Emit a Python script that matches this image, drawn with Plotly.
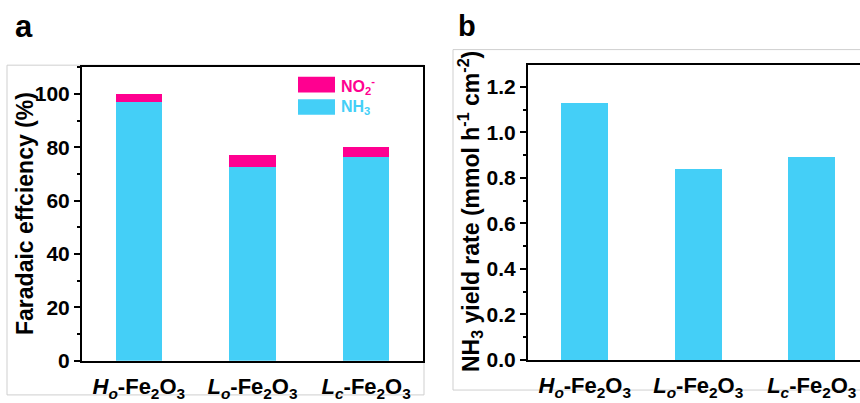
import plotly.graph_objects as go

W, H = 860, 403
def px(x): return x / W
def py(y): return 1 - y / H

# ---- data ----
categories = ["Ho-Fe2O3", "Lo-Fe2O3", "Lc-Fe2O3"]
tick_labels = ["<i>H<sub>o</sub></i>-Fe<sub>2</sub>O<sub>3</sub>",
               "<i>L<sub>o</sub></i>-Fe<sub>2</sub>O<sub>3</sub>",
               "<i>L<sub>c</sub></i>-Fe<sub>2</sub>O<sub>3</sub>"]
fe_nh3 = [96.9, 72.5, 76.5]
fe_no2 = [2.9, 4.6, 3.7]
yield_nh3 = [1.13, 0.84, 0.89]

CYAN = "#44CFF7"
PINK = "#FF0090"
FONT = "Liberation Sans"
xpos = list(range(len(categories)))

fig = go.Figure()
fig.add_trace(go.Bar(x=xpos, y=fe_nh3, marker=dict(color=CYAN, line=dict(width=0)),
                     width=0.41, xaxis="x", yaxis="y", name="NH3", showlegend=False))
fig.add_trace(go.Bar(x=xpos, y=fe_no2, marker=dict(color=PINK, line=dict(width=0)),
                     width=0.41, xaxis="x", yaxis="y", name="NO2-", showlegend=False))
fig.add_trace(go.Bar(x=xpos, y=yield_nh3, marker=dict(color=CYAN, line=dict(width=0)),
                     width=0.41, xaxis="x2", yaxis="y2", name="NH3 yield", showlegend=False))

ytickfont = dict(family=FONT, size=21, color="black", weight="bold")
xtickfont = dict(family=FONT, size=22, color="black", weight="bold")
common_x = dict(showline=True, linecolor="black", linewidth=2, ticks="", showgrid=False,
                zeroline=False, tickvals=xpos, ticktext=tick_labels, tickfont=xtickfont,
                ticklabelstandoff=5)
common_y = dict(showline=True, linecolor="black", linewidth=2, ticks="outside", ticklen=6,
                tickwidth=2, tickcolor="black", showgrid=False, zeroline=False,
                tickfont=ytickfont)

fig.update_layout(
    width=W, height=H, margin=dict(l=0, r=0, t=0, b=0),
    paper_bgcolor="white", plot_bgcolor="white", barmode="stack",
    xaxis=dict(domain=[px(82), px(423)], range=[-0.5, 2.5], mirror=True, anchor="y", **common_x),
    yaxis=dict(domain=[py(371), py(69)], range=[0, 110], dtick=20, mirror=True, anchor="x",
               minor=dict(dtick=10, ticks="outside", ticklen=3, tickwidth=2, tickcolor="black"),
               **common_y),
    xaxis2=dict(domain=[px(528), 1], range=[-0.5, -0.5 + (W - 528) / 113.5], mirror=True,
                anchor="y2", **common_x),
    yaxis2=dict(domain=[py(370), py(67)], range=[0, 1.295], dtick=0.2, tickformat=".1f",
                anchor="x2",
                minor=dict(dtick=0.1, ticks="outside", ticklen=3, tickwidth=2, tickcolor="black"),
                **common_y),
)

shapes = [
    # panel frames (light gray)
    dict(type="rect", xref="paper", yref="paper", x0=px(7), x1=px(424), y0=py(406), y1=py(67),
         line=dict(color="#CFCFCF", width=1), fillcolor="rgba(0,0,0,0)", layer="below"),
    dict(type="rect", xref="paper", yref="paper", x0=px(453), x1=px(870), y0=py(401), y1=py(51),
         line=dict(color="#CFCFCF", width=1), fillcolor="rgba(0,0,0,0)", layer="below"),
    # legend swatches
    dict(type="rect", xref="paper", yref="paper", x0=px(298), x1=px(335), y0=py(95), y1=py(79),
         line=dict(width=0), fillcolor=PINK),
    dict(type="rect", xref="paper", yref="paper", x0=px(298), x1=px(335), y0=py(118), y1=py(102),
         line=dict(width=0), fillcolor=CYAN),
]

ann = [
    dict(text="a", x=px(24), y=py(27), font=dict(family=FONT, size=31, color="black", weight="bold")),
    dict(text="b", x=px(467), y=py(27), font=dict(family=FONT, size=29, color="black", weight="bold")),
    dict(text="Faradaic effciency (%)", x=px(25), y=py(220), textangle=-90,
         font=dict(family=FONT, size=23, color="black", weight="bold")),
    dict(text="NH<sub>3</sub> yield rate (mmol h<sup>-1</sup> cm<sup>-2</sup>)", x=px(470), y=py(218),
         textangle=-90, font=dict(family=FONT, size=23, color="black", weight="bold")),
    dict(text="NO<sub>2</sub><sup>-</sup>", x=px(339), y=py(88), xanchor="left",
         font=dict(family=FONT, size=16, color=PINK, weight="bold")),
    dict(text="NH<sub>3</sub>", x=px(339), y=py(111), xanchor="left",
         font=dict(family=FONT, size=16, color=CYAN, weight="bold")),
]
for a in ann:
    a.setdefault("xanchor", "center")
    a.update(xref="paper", yref="paper", yanchor="middle", showarrow=False)
fig.update_layout(shapes=shapes, annotations=ann)

fig.write_html("out.html")
